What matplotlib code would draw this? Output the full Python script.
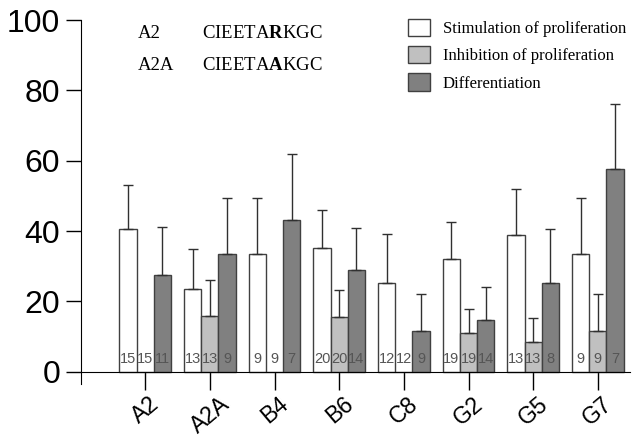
import numpy as np
import matplotlib
matplotlib.use("Agg")
import matplotlib.pyplot as plt
from matplotlib.patches import Patch

groups = ["A2", "A2A", "B4", "B6", "C8", "G2", "G5", "G7"]
stim = [40.5, 23.5, 33.5, 35.3, 25.3, 32, 38.8, 33.5]
stim_err = [12.5, 11.5, 16, 10.8, 14, 10.5, 13.3, 16]
inhib = [0, 16, 0, 15.5, 0, 11, 8.4, 11.7]
inhib_err = [0, 10, 0, 7.8, 0, 7, 7, 10.3]
diff = [27.6, 33.5, 43.2, 29, 11.7, 14.8, 25.3, 57.6]
diff_err = [13.5, 16, 18.6, 12, 10.3, 9.3, 15.3, 18.6]
n_stim = [15, 13, 9, 20, 12, 19, 13, 9]
n_inhib = [15, 13, 9, 20, 12, 19, 13, 9]
n_diff = [11, 9, 7, 14, 9, 14, 8, 7]

plt.rcParams['font.family'] = ['Liberation Sans', 'DejaVu Sans']
plt.rcParams['mathtext.fontset'] = 'custom'
plt.rcParams['mathtext.rm'] = 'Liberation Serif'
plt.rcParams['mathtext.bf'] = 'Liberation Serif:bold'

fig = plt.figure(figsize=(6.34, 4.38), dpi=100)
ax = fig.add_axes([0.128, 0.123, 0.866, 0.831])
# x axis sits at y=0, the left spine runs a little below it
ax.spines['bottom'].set_position(('data', 0))
ax.spines['top'].set_visible(False)
ax.spines['right'].set_visible(False)

x = np.arange(len(groups))
w = 0.265
cols = ['white', '#c0c0c0', '#808080']
series = [(stim, stim_err, n_stim), (inhib, inhib_err, n_inhib), (diff, diff_err, n_diff)]
for k, (vals, errs, ns) in enumerate(series):
    xs = x + (k - 1) * w
    ax.bar(xs, vals, w, color=cols[k], edgecolor='#404040', linewidth=1, zorder=2)
    for xi, v, e, n in zip(xs, vals, errs, ns):
        if e > 0:
            ax.errorbar(xi, v, yerr=[[0], [e]], fmt='none', ecolor='#303030',
                        elinewidth=1, capsize=3.5, capthick=1, zorder=3)
        ax.text(xi, 3.6, str(n), ha='center', va='center', fontsize=10.5,
                color='#555555', zorder=4)

ax.set_ylim(-3.5, 100)
ax.set_xlim(-0.99, 7.5)
ax.set_yticks([0, 20, 40, 60, 80, 100])
ax.tick_params(axis='y', labelsize=23, length=11, width=1, pad=4)
ax.set_xticks(x)
ax.set_xticklabels(groups, rotation=40, fontsize=16.5, ha='center')
ax.tick_params(axis='x', length=13, width=1, pad=2)

serif = dict(transform=ax.transAxes, family='Liberation Serif', fontsize=13.5, va='center')
ax.text(0.104, 0.962, "A2", **serif)
ax.text(0.22, 0.962, r"CIEETA$\mathbf{R}$KGC", **serif)
ax.text(0.104, 0.875, "A2A", **serif)
ax.text(0.22, 0.875, r"CIEETA$\mathbf{A}$KGC", **serif)

handles = [Patch(facecolor=c, edgecolor='#404040') for c in cols]
ax.legend(handles, ["Stimulation of proliferation", "Inhibition of proliferation", "Differentiation"],
          loc='upper right', bbox_to_anchor=(1.02, 1.045), frameon=False,
          prop={'family': 'Liberation Serif', 'size': 12}, handlelength=1.3, handleheight=1.2,
          labelspacing=0.55, handletextpad=0.8)

fig.savefig("out.png", dpi=100)
